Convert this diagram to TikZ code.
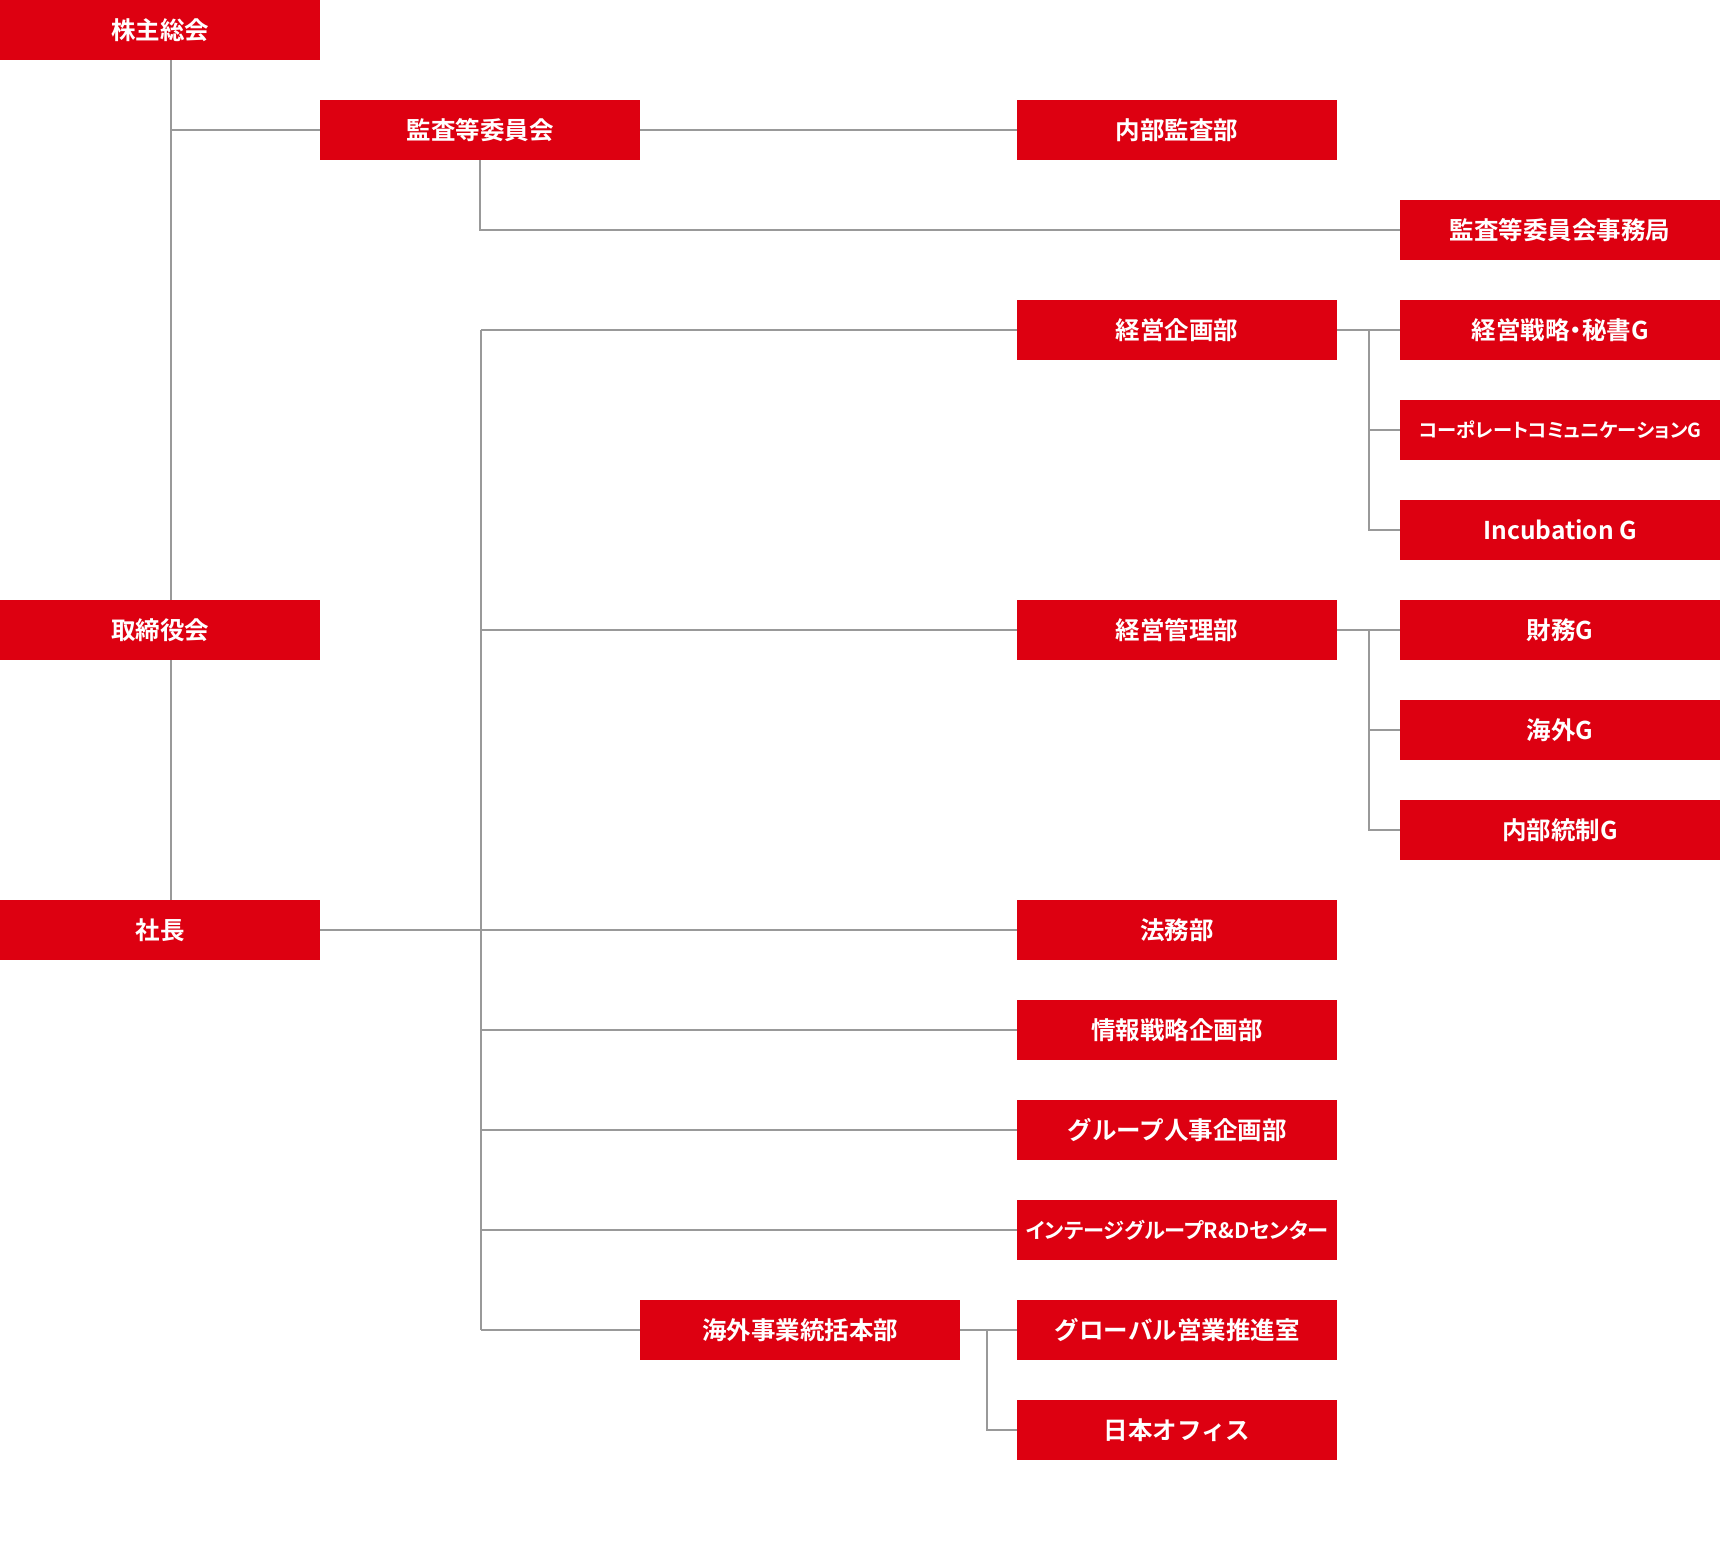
\documentclass[tikz,border=0pt]{standalone}
\usepackage{fontspec}
\newfontfamily\jp{Noto Sans CJK JP Bold}
\newfontfamily\jpp{Noto Sans CJK JP Bold}[RawFeature=+palt]
\definecolor{boxred}{RGB}{221,0,17}
\definecolor{linegray}{RGB}{153,153,153}
\begin{document}
\begin{tikzpicture}[x=1pt,y=-1pt,
  box/.style={fill=boxred, text=white, minimum width=320pt, minimum height=60pt,
    inner sep=0pt, anchor=north west, font=\jp\fontsize{24.5pt}{28pt}\selectfont},
  smalltext/.style={font=\jpp\fontsize{19.3pt}{24pt}\selectfont},
  midtext/.style={font=\jpp\fontsize{21.2pt}{24pt}\selectfont},
  conn/.style={draw=linegray, line width=1.5pt}]
\useasboundingbox (0,0) rectangle (1720,1560);
\node[box] (a) at (0,0) {株主総会};
\node[box] (b) at (320,100) {監査等委員会};
\node[box] (c) at (1017,100) {内部監査部};
\node[box] (d) at (1400,200) {監査等委員会事務局};
\node[box] (e) at (1017,300) {経営企画部};
\node[box] (e1) at (1400,300) {経営戦略{\jpp ・}秘書G};
\node[box,smalltext] (e2) at (1400,400) {コーポレートコミュニケーションG};
\node[box] (e3) at (1400,500) {Incubation G};
\node[box] (f) at (0,600) {取締役会};
\node[box] (g) at (1017,600) {経営管理部};
\node[box] (g1) at (1400,600) {財務G};
\node[box] (g2) at (1400,700) {海外G};
\node[box] (g3) at (1400,800) {内部統制G};
\node[box] (h) at (0,900) {社長};
\node[box] (i) at (1017,900) {法務部};
\node[box] (j) at (1017,1000) {情報戦略企画部};
\node[box] (k) at (1017,1100) {グループ人事企画部};
\node[box,midtext] (l) at (1017,1200) {インテージグループR\&Dセンター};
\node[box] (m) at (640,1300) {海外事業統括本部};
\node[box] (n) at (1017,1300) {グローバル営業推進室};
\node[box] (o) at (1017,1400) {日本オフィス};
\coordinate (v1) at (171,0);
\coordinate (v2) at (480,0);
\coordinate (t) at (481,0);
\coordinate (s) at (1369,0);
\coordinate (r) at (987,0);
% top chain
\draw[conn] (a.south -| v1) -- (f.north -| v1);
\draw[conn] (f.south -| v1) -- (h.north -| v1);
\draw[conn] (v1 |- b.west) -- (b.west);
\draw[conn] (b.east) -- (c.west);
\draw[conn] (b.south -| v2) |- (d.west);
% trunk
\draw[conn] (h.east) -- (i.west);
\draw[conn] (t |- e.west) -- (t |- m.west);
\draw[conn] (t |- e.west) -- (e.west);
\draw[conn] (t |- g.west) -- (g.west);
\draw[conn] (t |- j.west) -- (j.west);
\draw[conn] (t |- k.west) -- (k.west);
\draw[conn] (t |- l.west) -- (l.west);
\draw[conn] (t |- m.west) -- (m.west);
% 経営企画部
\draw[conn] (e.east) -- (e1.west);
\draw[conn] (s |- e1.west) |- (e3.west);
\draw[conn] (s |- e2.west) -- (e2.west);
% 経営管理部
\draw[conn] (g.east) -- (g1.west);
\draw[conn] (s |- g1.west) |- (g3.west);
\draw[conn] (s |- g2.west) -- (g2.west);
% 海外事業統括本部
\draw[conn] (m.east) -- (n.west);
\draw[conn] (r |- n.west) |- (o.west);
\end{tikzpicture}
\end{document}
